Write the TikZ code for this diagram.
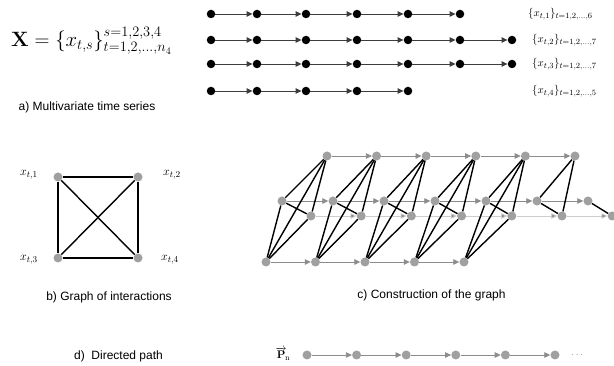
\documentclass[tikz,border=0pt]{standalone}
\usepackage[no-math]{fontspec}
\setmainfont{Liberation Sans}
\usepackage{amsmath}
\usetikzlibrary{arrows.meta}
\definecolor{dotgray}{RGB}{160,160,160}
\definecolor{arrgray}{RGB}{140,140,140}
\definecolor{lightline}{RGB}{205,205,205}
\definecolor{linedark}{RGB}{60,60,60}
\pgfdeclarelayer{bg}
\pgfsetlayers{bg,main}
\tikzset{
  bdot/.style={circle, fill=black, inner sep=0pt, minimum size=8.5pt},
  gdot/.style={circle, fill=dotgray, inner sep=0pt, minimum size=9pt},
  tarr/.style={-{Triangle[length=6pt,width=5.5pt]}, line width=0.9pt, draw=linedark},
  garr/.style={-{Triangle[length=6pt,width=5.5pt,fill=arrgray]}, line width=0.8pt, draw=arrgray},
  uedge/.style={line width=1.4pt, draw=black},
  caption/.style={font=\fontsize{12}{14}\selectfont, inner sep=0pt},
  serlabel/.style={anchor=west, inner sep=0pt, font=\fontsize{11}{13}\selectfont},
  varlabel/.style={inner sep=0pt, font=\fontsize{12.5}{14}\selectfont}
}
\begin{document}
\begin{tikzpicture}[x=1pt,y=-1pt]
\useasboundingbox (0,0) rectangle (614,366);

% ---------- a) Multivariate time series ----------
\node[anchor=base west, inner sep=0pt, font=\fontsize{20}{23}\selectfont] (formula) at (11,46.5)
  {$\mathbf{X}=\{x_{t,s}\}^{s=1,2,3,4}_{t=1,2,\ldots,n_4}$};
\node[caption] (capa) at (87,107) {a) Multivariate time series};

\foreach \s/\y/\n in {1/14/6,2/40/7,3/64/7,4/91/5} {
  \foreach \t in {1,...,\n} {
    \pgfmathsetmacro\xx{{211,257,306,357,408,460,512}[\t-1]}
    \node[bdot] (a\s-\t) at (\xx,\y) {};
  }
}
\foreach \s/\m in {1/5,2/6,3/6,4/4} {
  \foreach \t [count=\u from 2] in {1,...,\m} {
    \draw[tarr] (a\s-\t) -- (a\s-\u);
  }
}
\node[serlabel] (la1) at (528,14) {$\{x_{t,1}\}_{t=1,2,\ldots,6}$};
\node[serlabel] (la2) at (532,40) {$\{x_{t,2}\}_{t=1,2,\ldots,7}$};
\node[serlabel] (la3) at (532,64) {$\{x_{t,3}\}_{t=1,2,\ldots,7}$};
\node[serlabel] (la4) at (532,91) {$\{x_{t,4}\}_{t=1,2,\ldots,5}$};

% ---------- b) Graph of interactions ----------
\node[gdot] (b1) at (58,177) {};
\node[gdot] (b2) at (138,177) {};
\node[gdot] (b3) at (58,258) {};
\node[gdot] (b4) at (138,258) {};
\begin{pgfonlayer}{bg}
\foreach \i/\j in {1/2,1/3,1/4,2/3,2/4,3/4} {
  \draw[uedge] (b\i) -- (b\j);
}
\end{pgfonlayer}
\node[varlabel] (lb1) at (29,175) {$x_{t,1}$};
\node[varlabel] (lb2) at (172,175) {$x_{t,2}$};
\node[varlabel] (lb3) at (29,260) {$x_{t,3}$};
\node[varlabel] (lb4) at (170,260) {$x_{t,4}$};
\node[caption] (capb) at (109,297) {b) Graph of interactions};

% ---------- c) Construction of the graph ----------
\foreach \s/\xs/\dx/\y/\n in {1/327/49.6/156/6, 2/282/51/201/7, 3/311/50.2/216/7, 4/266/49.5/262/5} {
  \foreach \t in {1,...,\n} {
    \node[gdot] (c\s-\t) at ({\xs+\dx*(\t-1)},\y) {};
  }
}
\begin{pgfonlayer}{bg}
\foreach \s/\m/\col in {1/5/arrgray,2/6/arrgray,3/6/lightline,4/4/arrgray} {
  \foreach \t [count=\u from 2] in {1,...,\m} {
    \draw[garr, draw=\col] (c\s-\t) -- (c\s-\u);
  }
}
\foreach \t in {1,...,5} {
  \foreach \i/\j in {1/2,1/3,1/4,2/3,2/4,3/4} {
    \draw[uedge] (c\i-\t) -- (c\j-\t);
  }
}
\foreach \i/\j in {1/2,1/3,2/3} {
  \draw[uedge] (c\i-6) -- (c\j-6);
}
\draw[uedge] (c2-7) -- (c3-7);
\end{pgfonlayer}
\node[caption] (capc) at (431.5,295) {c) Construction of the graph};

% ---------- d) Directed path ----------
\node[caption] (capd) at (118.5,356) {d)~~Directed path};
\node[inner sep=0pt, font=\fontsize{11}{13}\selectfont] (pn) at (283,354) {$\overrightarrow{\mathbf{P}}_{\!\mathrm{n}}$};
\foreach \k in {1,...,6} {
  \node[gdot] (d\k) at ({307+49.6*(\k-1)},355) {};
}
\begin{pgfonlayer}{bg}
\foreach \k [count=\u from 2] in {1,...,5} {
  \draw[garr] (d\k) -- (d\u);
}
\end{pgfonlayer}
\node[inner sep=0pt, text=arrgray] (ddots) at (578,355) {$\cdots$};
\end{tikzpicture}
\end{document}
